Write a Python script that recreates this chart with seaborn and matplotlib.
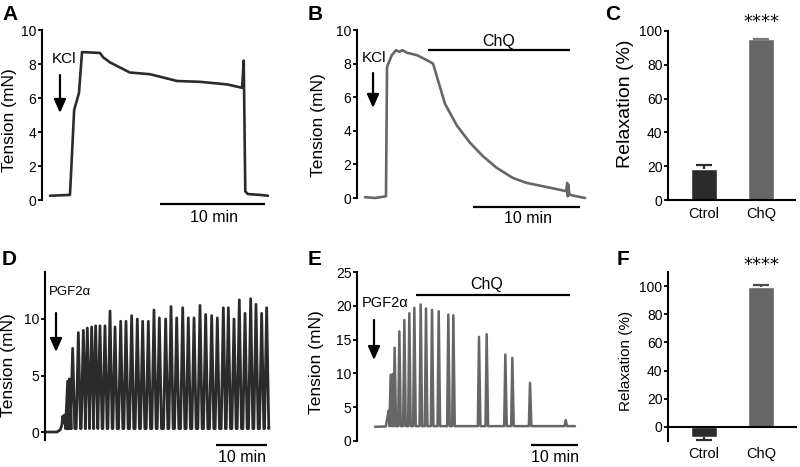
import numpy as np
import pandas as pd
import matplotlib
matplotlib.use("Agg")
import matplotlib.pyplot as plt
import seaborn as sns

sns.set_theme(style="white")
plt.rcParams["font.family"] = ["Liberation Sans", "DejaVu Sans"]
plt.rcParams["axes.edgecolor"] = "black"
plt.rcParams["text.color"] = "black"
plt.rcParams["axes.labelcolor"] = "black"
plt.rcParams["xtick.color"] = "black"
plt.rcParams["ytick.color"] = "black"

W, H = 800, 467

# ---------------- data ----------------
# Panel A: KCl contraction, control (time in min, tension in mN)
a_time = [0, 1.9, 2.0, 2.3, 2.76, 3.05, 4.76, 5.05, 5.7, 7.6, 9.5, 10.5, 12.1, 14.3,
          16.86, 18.3, 18.45, 18.6, 18.85, 20.0, 20.76]
a_tension = [0.25, 0.3, 1.5, 5.3, 6.3, 8.7, 8.65, 8.4, 8.1, 7.5, 7.4, 7.25, 7.0, 6.95,
             6.8, 6.6, 8.2, 0.5, 0.35, 0.3, 0.25]

# Panel B: KCl contraction + ChQ
b_time = [0, 0.93, 1.96, 2.06, 2.5, 2.9, 3.2, 3.5, 3.9, 4.86, 5.8, 6.36, 6.73, 7.48,
          8.6, 9.8, 11.0, 12.3, 13.8, 15.1, 17.0, 18.5, 18.8, 18.9, 18.95, 19.0, 19.1,
          19.4, 20.56]
b_tension = [0.05, 0.0, 0.1, 7.8, 8.5, 8.8, 8.7, 8.8, 8.65, 8.5, 8.2, 8.0, 7.2, 5.6,
             4.3, 3.3, 2.5, 1.8, 1.2, 0.9, 0.65, 0.45, 0.4, 0.9, 0.1, 0.8, 0.2,
             0.15, 0.0]

# Panel C: relaxation of KCl contraction
c_groups = ["Ctrol", "ChQ"]
c_mean = [18.2, 95.0]
c_sem = [2.5, 0.3]

# Panel D: PGF2alpha rhythmic contractions, control
d_pre_time = [0, 2.35, 3.0, 3.3, 3.5, 3.65, 3.8, 3.95, 4.1]
d_pre_tension = [0, 0, 0.2, 0.6, 1.4, 0.8, 1.5, 1.0, 1.5]
d_peak_time = [4.44, 4.77, 5.42, 6.54, 7.52, 8.30, 9.15, 9.93, 10.78, 11.76, 12.75,
               13.73, 14.84, 15.88, 16.99, 18.10, 19.15, 20.26, 21.37, 22.42, 23.66,
               24.71, 25.82, 27.0, 28.10, 29.22, 30.39, 31.50, 32.68, 33.79, 34.97,
               35.95, 37.06, 38.10, 39.22, 40.33, 41.37, 42.48, 43.46]
d_peak_tension = [4.5, 4.7, 7.4, 8.8, 9.0, 9.2, 9.3, 9.4, 9.4, 9.4, 10.7, 9.3, 9.8,
                  9.8, 10.3, 10.0, 9.8, 9.8, 10.8, 10.1, 10.0, 11.1, 10.1, 11.0, 10.1,
                  10.1, 11.2, 10.4, 10.3, 10.1, 11.0, 11.0, 10.0, 11.7, 10.5, 11.8,
                  11.3, 10.5, 11.0]
d_trough = 0.3
d_post_time = [43.9]
d_post_tension = [0.4]

# Panel E: PGF2alpha rhythmic contractions + ChQ
e_pre_time = [0, 2.3, 2.9, 3.1]
e_pre_tension = [2.1, 2.15, 4.5, 4.3]
e_peak_time = [3.33, 3.76, 4.18, 5.18, 6.24, 7.30, 8.37, 9.72, 10.85, 12.13, 13.55,
               15.6, 16.67, 22.13, 23.76, 27.73, 29.22, 32.98, 40.57]
e_peak_tension = [9.8, 9.9, 13.8, 16.2, 17.9, 18.9, 19.7, 20.2, 19.6, 19.4, 19.2,
                  18.7, 18.6, 15.4, 15.8, 12.8, 12.3, 8.6, 3.1]
e_trough = 2.2
e_post_time = [42.55]
e_post_tension = [2.2]

# Panel F: relaxation of PGF2alpha contraction
f_groups = ["Ctrol", "ChQ"]
f_mean = [-7.1, 99.5]
f_sem = [1.9, 1.0]

stars = "****"
tension_label = "Tension (mN)"
relax_label = "Relaxation (%)"

DARK = "#2b2b2b"
GREY = "#666666"


def spikes(pre_t, pre_v, pk_t, pk_v, base, rise, fall, post_t, post_v):
    t, v = list(pre_t), list(pre_v)
    for pt, pv in zip(pk_t, pk_v):
        t += [pt - rise, pt, pt + fall]
        v += [base, pv, base]
    return t + list(post_t), v + list(post_v)


def px_axes(fig, px_x0, x0, sx, xlim, px_y0, y0, sy, ylim):
    left = px_x0 + (xlim[0] - x0) * sx
    right = px_x0 + (xlim[1] - x0) * sx
    bot = px_y0 - (ylim[0] - y0) * sy
    top = px_y0 - (ylim[1] - y0) * sy
    ax = fig.add_axes([left / W, 1 - bot / H, (right - left) / W, (bot - top) / H])
    ax.set_xlim(*xlim)
    ax.set_ylim(*ylim)
    return ax


def style_trace(ax, yticks, bounds):
    for s in ["top", "right", "bottom"]:
        ax.spines[s].set_visible(False)
    ax.spines["left"].set_linewidth(1.5)
    ax.spines["left"].set_color("black")
    if bounds is not None:
        ax.spines["left"].set_bounds(*bounds)
    ax.set_xticks([])
    ax.set_yticks(yticks)
    ax.tick_params(axis="y", left=True, length=3, width=1.3, direction="out",
                   labelsize=10, pad=1)
    ax.set_xlabel("")
    ax.patch.set_alpha(0)


def place_ylabel(ax, text, size, cx, cy):
    ax.set_ylabel(text, fontsize=size, va="center", ha="center")
    xy = ax.transAxes.inverted().transform((cx, H - cy))
    ax.yaxis.set_label_coords(xy[0], xy[1])


def hbar(ax, x0, x1, y, color="black"):
    ax.plot([x0, x1], [y, y], color=color, lw=1.6, clip_on=False,
            solid_capstyle="butt")


def arrow(ax, x, y0, y1):
    ax.annotate("", xy=(x, y1), xytext=(x, y0), annotation_clip=False,
                arrowprops=dict(arrowstyle="-|>,head_width=0.4,head_length=0.9",
                                mutation_scale=9, lw=1.6, color="black",
                                shrinkA=0, shrinkB=0))


def one_sided_err(ax, x, m, e, color, capw=0.28):
    end = m + e if m >= 0 else m - e
    ax.plot([x, x], [m, end], color=color, lw=1.6, clip_on=False,
            solid_capstyle="butt")
    ax.plot([x - capw / 2, x + capw / 2], [end, end], color=color, lw=1.6,
            clip_on=False, solid_capstyle="butt")


fig = plt.figure(figsize=(8, 4.67), dpi=100)

# ---------- A ----------
axA = px_axes(fig, 50, 0, 10.5, (-0.762, 21.43), 200, 0, 17, (-1.2, 10.2))
sns.lineplot(x=a_time, y=a_tension, ax=axA, color=DARK, lw=1.9, sort=False,
             estimator=None)
style_trace(axA, [0, 2, 4, 6, 8, 10], (0, 10))
place_ylabel(axA, tension_label, 12.5, 9, 120)
axA.text(0.19, 8.06, "KCl", fontsize=11, ha="left", va="baseline")
arrow(axA, 0.95, 7.35, 5.12)
hbar(axA, 10.5, 20.5, -0.235)
axA.text(15.6, -1.29, "10 min", fontsize=11.5, ha="center", va="baseline")

# ---------- B ----------
axB = px_axes(fig, 365, 0, 10.7, (-0.748, 21.03), 198, 0, 16.8, (-1.6, 10.2))
sns.lineplot(x=b_time, y=b_tension, ax=axB, color=GREY, lw=1.9, sort=False,
             estimator=None)
style_trace(axB, [0, 2, 4, 6, 8, 10], (0, 10))
place_ylabel(axB, tension_label, 12.5, 318, 125)
axB.text(-0.28, 8.1, "KCl", fontsize=11, ha="left", va="baseline")
arrow(axB, 0.75, 7.44, 5.36)
hbar(axB, 5.89, 19.16, 8.81)
axB.text(12.48, 9.02, "ChQ", fontsize=11.5, ha="center", va="baseline")
hbar(axB, 10.09, 20.09, -0.536)
axB.text(15.28, -1.49, "10 min", fontsize=11.5, ha="center", va="baseline")

# ---------- C ----------
axC = px_axes(fig, 704, 0, 57, (-0.632, 1.596), 200, 0, 1.69, (0, 100))
sns.barplot(x=c_groups, y=c_mean, hue=c_groups, palette=[DARK, GREY], width=0.456,
            saturation=1, legend=False, ax=axC, errorbar=None)
for i, (m, e, col) in enumerate(zip(c_mean, c_sem, [DARK, "#7a7a7a"])):
    one_sided_err(axC, i, m, e, col)
axC.set_xlim(-0.632, 1.596)
axC.set_ylim(0, 100)

# ---------- D ----------
axD = px_axes(fig, 45, 0, 5.1, (0, 45.1), 432, 0, 11.3, (-0.7, 14.2))
d_t, d_v = spikes(d_pre_time, d_pre_tension, d_peak_time, d_peak_tension, d_trough,
                  0.42, 0.42, d_post_time, d_post_tension)
sns.lineplot(x=d_t, y=d_v, ax=axD, color=DARK, lw=2.0, sort=False, estimator=None)
style_trace(axD, [0, 5, 10], None)
place_ylabel(axD, tension_label, 12.5, 9, 365)
axD.text(0.78, 12.12, "PGF2\u03b1", fontsize=9.5, ha="left", va="baseline")
arrow(axD, 2.16, 10.53, 7.08)
hbar(axD, 33.53, 43.53, -1.15)
axD.text(38.53, -2.65, "10 min", fontsize=11.5, ha="center", va="baseline")

# ---------- E ----------
axE = px_axes(fig, 375, 0, 4.7, (-3.83, 44.7), 441, 0, 6.76, (-3.0, 25.5))
e_t, e_v = spikes(e_pre_time, e_pre_tension, e_peak_time, e_peak_tension, e_trough,
                  0.25, 0.3, e_post_time, e_post_tension)
sns.lineplot(x=e_t, y=e_v, ax=axE, color=GREY, lw=1.8, sort=False, estimator=None)
style_trace(axE, [0, 5, 10, 15, 20, 25], (0, 25))
place_ylabel(axE, tension_label, 12.5, 317, 362)
axE.text(-2.77, 19.8, "PGF2\u03b1", fontsize=10.5, ha="left", va="baseline")
arrow(axE, -0.21, 17.9, 11.98)
hbar(axE, 8.72, 41.49, 21.6)
axE.text(23.8, 22.5, "ChQ", fontsize=11.5, ha="center", va="baseline")
hbar(axE, 33.2, 43.2, -0.59)
axE.text(38.4, -3.1, "10 min", fontsize=11.5, ha="center", va="baseline")

# ---------- F ----------
axF = px_axes(fig, 704, 0, 57, (-0.632, 1.632), 427, 0, 1.41, (-10, 110))
sns.barplot(x=f_groups, y=f_mean, hue=f_groups, palette=[DARK, GREY], width=0.456,
            saturation=1, legend=False, ax=axF, errorbar=None)
for i, (m, e, col) in enumerate(zip(f_mean, f_sem, [DARK, "#4a4a4a"])):
    one_sided_err(axF, i, m, e, col)
axF.axhline(0, color="black", lw=1.5)
axF.set_xlim(-0.632, 1.632)
axF.set_ylim(-10, 110)

for ax, pad in [(axC, 5.0), (axF, 4.3)]:
    ax.spines["top"].set_visible(False)
    ax.spines["right"].set_visible(False)
    ax.spines["left"].set_linewidth(1.5)
    ax.spines["left"].set_color("black")
    ax.set_yticks([0, 20, 40, 60, 80, 100])
    ax.tick_params(axis="y", left=True, length=3, width=1.3, direction="out",
                   labelsize=10, pad=1)
    ax.tick_params(axis="x", bottom=False, length=0, labelsize=10.5, pad=pad)
    ax.set_xlabel("")
    ax.patch.set_alpha(0)
axC.spines["bottom"].set_linewidth(1.5)
axC.spines["bottom"].set_color("black")
axF.spines["bottom"].set_visible(False)
place_ylabel(axC, relax_label, 14, 625.5, 104)
place_ylabel(axF, relax_label, 11, 626, 361)
axC.text(1.0, 105.6, stars, fontsize=13, family=["DejaVu Sans"], ha="center",
         va="center")
axF.text(1.0, 115.2, stars, fontsize=13, family=["DejaVu Sans"], ha="center",
         va="center")

# ---------- panel letters ----------
for letter, x, y in [("A", 2, 20), ("B", 308, 20), ("C", 605, 20),
                     ("D", 2, 265), ("E", 308, 265), ("F", 617, 265)]:
    fig.text(x / W, 1 - y / H, letter, fontsize=15, fontweight="bold",
             ha="left", va="baseline")

fig.savefig("out.png", dpi=100)
